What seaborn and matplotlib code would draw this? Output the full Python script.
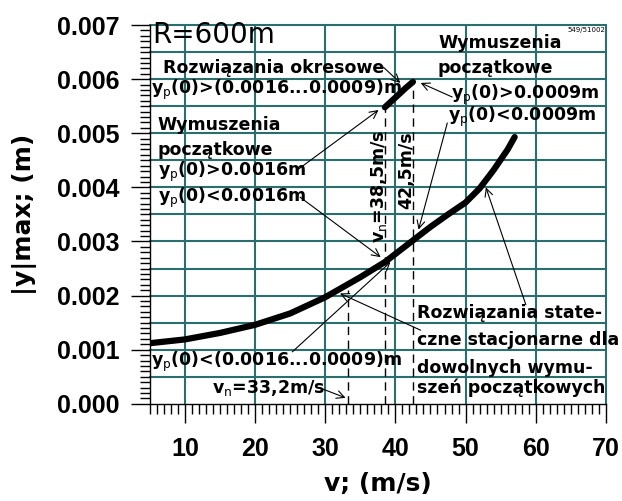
import numpy as np
import pandas as pd
import seaborn as sns
import matplotlib.pyplot as plt
from matplotlib.ticker import MultipleLocator, FormatStrFormatter

# data
v_stat = [5, 10, 15, 20, 25, 30, 35, 38.5, 40, 42.5, 45, 47.5, 50, 52, 54, 56, 57]
y_stat = [0.00112, 0.00119, 0.00131, 0.00146, 0.00167, 0.00197, 0.00234, 0.00262, 0.00277,
          0.00302, 0.00327, 0.00350, 0.00372, 0.00398, 0.00432, 0.00470, 0.00493]

v_per = [38.5, 39.5, 40.5, 41.5, 42.5]
y_per = [0.00548, 0.00560, 0.00572, 0.00584, 0.00595]

v_crit = [33.2, 38.5, 42.5]
y_crit_top = [0.00210, 0.00545, 0.00593]

# arrows: tail (text end) -> head (point on curve)
arrow_tail_v = [38.3, 48.1, 47.4, 26.0, 26.4, 25.3, 29.3, 58.6, 43.6]
arrow_tail_y = [0.00622, 0.00567, 0.00519, 0.00432, 0.00382, 0.00096, 0.00029, 0.00183, 0.00136]
arrow_head_v = [40.7, 43.6, 43.3, 37.6, 37.9, 39.3, 32.9, 52.9, 32.1]
arrow_head_y = [0.00593, 0.00593, 0.00322, 0.00543, 0.00271, 0.00262, 0.00011, 0.00400, 0.00204]

labels = ['Rozwiązania okresowe',
          'y$_{\\rm p}$(0)>(0.0016...0.0009)m',
          'Wymuszenia', 'początkowe',
          'y$_{\\rm p}$(0)>0.0016m', 'y$_{\\rm p}$(0)<0.0016m',
          'Wymuszenia', 'początkowe',
          'y$_{\\rm p}$(0)>0.0009m', 'y$_{\\rm p}$(0)<0.0009m',
          'y$_{\\rm p}$(0)<(0.0016...0.0009)m',
          'v$_{\\rm n}$=33,2m/s',
          'Rozwiązania state-', 'czne stacjonarne dla', 'dowolnych wymu-', 'szeń początkowych']
label_v = [6.9, 5.2, 6.1, 6.1, 6.1, 6.1, 46.1, 46.0, 47.9, 47.5, 5.2, 13.9, 43.1, 43.1, 43.1, 43.1]
label_y = [0.00621, 0.00580, 0.00515, 0.00469, 0.00428, 0.00380, 0.00667, 0.00621, 0.00571,
           0.00530, 0.00077, 0.00029, 0.00168, 0.00118, 0.00066, 0.00029]

sns.set_style('white')
plt.rcParams['font.family'] = ['DejaVu Sans']
plt.rcParams['mathtext.default'] = 'regular'
plt.rcParams['text.color'] = 'black'
plt.rcParams['axes.labelcolor'] = 'black'
plt.rcParams['xtick.color'] = 'black'
plt.rcParams['ytick.color'] = 'black'

fig = plt.figure(figsize=(6.22, 5.01), dpi=100)
ax = fig.add_axes([0.241, 0.194, 0.733, 0.756])

teal = '#2a6e6e'
# grid (every 0.0005 on y, every 10 on x)
for gy in np.arange(0.0005, 0.00701, 0.0005):
    ax.axhline(gy, color=teal, lw=1.5, zorder=0, clip_on=False)
for gx in range(10, 71, 10):
    ax.axvline(gx, color=teal, lw=1.5, zorder=0, clip_on=False)

df_stat = pd.DataFrame({'v': v_stat, 'y': y_stat})
df_per = pd.DataFrame({'v': v_per, 'y': y_per})
sns.lineplot(data=df_stat, x='v', y='y', color='black', lw=4.5, ax=ax, zorder=3)
sns.lineplot(data=df_per, x='v', y='y', color='black', lw=4.5, ax=ax, zorder=3)

for vc, yt in zip(v_crit, y_crit_top):
    ax.plot([vc, vc], [0, yt], color='black', lw=1, dashes=(6, 4), zorder=2)

for tv, ty, hv, hy in zip(arrow_tail_v, arrow_tail_y, arrow_head_v, arrow_head_y):
    ax.annotate('', xy=(hv, hy), xytext=(tv, ty),
                arrowprops=dict(arrowstyle='->', lw=0.8, color='black',
                                shrinkA=0, shrinkB=0, mutation_scale=14), zorder=4)

for t, lv, ly in zip(labels, label_v, label_y):
    ax.text(lv, ly, t, fontsize=12.5, fontweight='bold', ha='left', va='center', zorder=5)

ax.text(37.7, 0.00402, 'v$_{\\rm n}$=38,5m/s', rotation=90, fontsize=12.5, fontweight='bold',
        ha='center', va='center', zorder=5)
ax.text(41.6, 0.00432, '42,5m/s', rotation=90, fontsize=12.5, fontweight='bold',
        ha='center', va='center', zorder=5)
ax.text(5.4, 0.00682, 'R=600m', fontsize=20, ha='left', va='center', zorder=5)
ax.text(69.9, 0.00690, '549/51002', fontsize=5, ha='right', va='center', zorder=5)

ax.set_xlim(5, 70)
ax.set_ylim(0, 0.007)
ax.xaxis.set_major_locator(MultipleLocator(10))
ax.xaxis.set_minor_locator(MultipleLocator(1))
ax.yaxis.set_major_locator(MultipleLocator(0.001))
ax.yaxis.set_minor_locator(MultipleLocator(0.0001))
ax.yaxis.set_major_formatter(FormatStrFormatter('%.3f'))
ax.tick_params(which='both', bottom=True, left=True, top=False, right=False)
ax.tick_params(which='major', direction='out', length=14, width=1, color='black',
               labelsize=18, pad=8)
ax.tick_params(which='minor', direction='out', length=7, width=1, color='black')
ax.tick_params(axis='x', which='major', pad=10)
for lab in ax.get_xticklabels() + ax.get_yticklabels():
    lab.set_fontweight('bold')
    lab.set_fontfamily('Liberation Sans')

for s in ['top', 'right']:
    ax.spines[s].set_visible(False)
for s in ['left', 'bottom']:
    ax.spines[s].set_color('black')
    ax.spines[s].set_linewidth(1)

ax.set_xlabel('v; (m/s)', fontsize=18, fontweight='bold', labelpad=8)
ax.set_ylabel('|y|max; (m)', fontsize=18, fontweight='bold', labelpad=14)

fig.savefig('out.png', dpi=100)
